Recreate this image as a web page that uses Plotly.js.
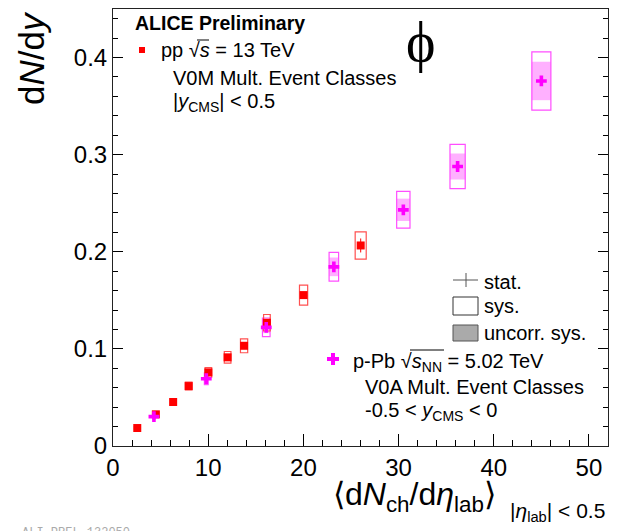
<!DOCTYPE html>
<html><head><meta charset="utf-8">
<script src="https://cdn.plot.ly/plotly-3.0.1.min.js"></script>
<style>html,body{margin:0;padding:0;background:#fff}</style>
</head><body>
<div id="chart" style="width:617px;height:531px"></div>
<script>
// pp 13 TeV, V0M multiplicity classes
const ppX     = [2.55, 4.50, 6.32, 7.95, 10.02, 12.04, 13.77, 16.17, 20.02, 26.02];
const ppY     = [0.0185, 0.0326, 0.0453, 0.0617, 0.0758, 0.0913, 0.1032, 0.1269, 0.1554, 0.2065];
const ppStat  = [0.0005, 0.0007, 0.0008, 0.0010, 0.0012, 0.0014, 0.0016, 0.0020, 0.0030, 0.0072];
const ppSys   = [0.0015, 0.0022, 0.0030, 0.0040, 0.0050, 0.0060, 0.0072, 0.0085, 0.0103, 0.0140];
const ppDx    = [0.30, 0.30, 0.30, 0.35, 0.35, 0.35, 0.38, 0.35, 0.43, 0.58];
// p-Pb 5.02 TeV, V0A multiplicity classes
const pPbX      = [4.3, 9.8, 16.1, 23.2, 30.5, 36.2, 45.0];
const pPbY      = [0.0302, 0.0693, 0.1222, 0.1845, 0.2432, 0.2878, 0.3759];
const pPbStat   = [0.0004, 0.0007, 0.0010, 0.0013, 0.0015, 0.0017, 0.0022];
const pPbSys    = [0.0025, 0.0060, 0.0096, 0.0148, 0.0189, 0.0227, 0.0300];
const pPbUncorr = [0.0016, 0.0040, 0.0060, 0.0096, 0.0115, 0.0134, 0.0198];
const pPbDx     = [0.10, 0.20, 0.40, 0.50, 0.70, 0.80, 1.00];
// axes
const xRange = [0, 52];
const yRange = [0, 0.45];

const FONT = 'Liberation Sans, Arial, Helvetica, sans-serif';
const LF = 20; // legend font size
const L = 113, R = 608, T = 9, B = 446;
const W = R - L, H = B - T;
const px = v => (v - L) / W;
const py = v => (B - v) / H;

const shapes = [];
// p-Pb uncorrelated systematics (filled)
for (let i = 0; i < pPbX.length; i++) {
  shapes.push({type:'rect', xref:'x', yref:'y', layer:'below',
    x0: pPbX[i]-pPbDx[i], x1: pPbX[i]+pPbDx[i],
    y0: pPbY[i]-pPbUncorr[i], y1: pPbY[i]+pPbUncorr[i],
    line:{width:0}, fillcolor:'#ffb0ff'});
}
for (let i = 0; i < pPbX.length; i++) {
  shapes.push({type:'rect', xref:'x', yref:'y', layer:'below',
    x0: pPbX[i]-pPbDx[i], x1: pPbX[i]+pPbDx[i],
    y0: pPbY[i]-pPbSys[i], y1: pPbY[i]+pPbSys[i],
    line:{color:'#ff4dff', width:1.2}, fillcolor:'rgba(0,0,0,0)'});
}
for (let i = 0; i < ppX.length; i++) {
  shapes.push({type:'rect', xref:'x', yref:'y', layer:'below',
    x0: ppX[i]-ppDx[i], x1: ppX[i]+ppDx[i],
    y0: ppY[i]-ppSys[i], y1: ppY[i]+ppSys[i],
    line:{color:'#ff5050', width:1.2}, fillcolor:'rgba(0,0,0,0)'});
}
// legend graphics (paper coords)
const P = (x0,y0,x1,y1,o) => Object.assign({type:'rect', xref:'paper', yref:'paper',
  x0:px(x0), x1:px(x1), y0:py(y1), y1:py(y0)}, o);
const Ln = (x0,y0,x1,y1,o) => Object.assign({type:'line', xref:'paper', yref:'paper',
  x0:px(x0), x1:px(x1), y0:py(y0), y1:py(y1)}, o);
shapes.push(P(139,47,145,53,{fillcolor:'#ff0000', line:{width:0}}));
shapes.push(Ln(453,280,478,280,{line:{color:'#555',width:1}}));
shapes.push(Ln(466,273,466,287,{line:{color:'#555',width:1}}));
shapes.push(P(453,297,478,315,{fillcolor:'#ffffff', line:{color:'#333',width:1}}));
shapes.push(P(453,325,478,341,{fillcolor:'#aaaaaa', line:{color:'#555',width:1}}));
shapes.push(P(327,357,339,361,{fillcolor:'#ff00ff', line:{width:0}}));
shapes.push(P(331,353,335,365,{fillcolor:'#ff00ff', line:{width:0}}));
// sqrt overlines
shapes.push(Ln(197,40,209,40,{line:{color:'#000',width:1}}));
shapes.push(Ln(410,350,444,350,{line:{color:'#000',width:1}}));

const A = (x, y, text, o) => Object.assign({xref:'paper', yref:'paper', x:px(x), y:py(y),
  text, showarrow:false, xanchor:'left', yanchor:'middle',
  font:{family:FONT, size:LF, color:'#000'}}, o);

const annotations = [
  A(133, 23, '<b>ALICE Preliminary</b>', {font:{family:FONT, size:19.5, color:'#000'}}),
  A(159, 50, 'pp √<i>s</i> = 13 TeV'),
  A(171, 78, 'V0M Mult. Event Classes'),
  A(171, 103, '|<i>y</i><sub>CMS</sub>| < 0.5'),
  A(420, 42, 'ϕ', {xanchor:'center', font:{family:'Liberation Serif, Times New Roman, serif', size:56, color:'#000'}}),
  A(482, 282, 'stat.'),
  A(482, 306, 'sys.'),
  A(482, 333, 'uncorr. sys.'),
  A(351, 362, 'p-Pb √<i>s</i><sub>NN</sub> = 5.02 TeV'),
  A(363, 387, 'V0A Mult. Event Classes'),
  A(363, 411, '-0.5 < <i>y</i><sub>CMS</sub> < 0'),
  A(31, 9, 'd<i>N</i>/d<i>y</i>', {xanchor:'center', yanchor:'top', textangle:-90, font:{family:FONT, size:35, color:'#000'}}),
  A(331, 496, '⟨d<i>N</i><sub>ch</sub>/d<i>η</i><sub>lab</sub>⟩', {font:{family:FONT, size:32, color:'#000'}}),
  A(607, 512, '|<i>η</i><sub>lab</sub>| < 0.5', {xanchor:'right', font:{family:FONT, size:21, color:'#000'}}),
  A(20, 524, 'ALI-PREL-132050', {yanchor:'top', font:{family:'Liberation Mono, Courier New, monospace', size:12, color:'#aaaaaa'}})
];

const traces = [
  {x: ppX, y: ppY, type:'scatter', mode:'markers', name:'pp 13 TeV',
   marker:{symbol:'square', size:8, color:'#ff0000', line:{width:0}},
   error_y:{type:'data', array: ppStat, color:'#ff0000', thickness:1, width:0}},
  {x: pPbX, y: pPbY, type:'scatter', mode:'markers', name:'p-Pb 5.02 TeV',
   marker:{symbol:'cross', size:9, color:'#ff00ff', line:{width:0}},
   error_y:{type:'data', array: pPbStat, color:'#ff00ff', thickness:1, width:0}}
];

const layout = {
  width:617, height:531,
  margin:{l:L, r:617-R, t:T, b:531-B, pad:0},
  paper_bgcolor:'#fff', plot_bgcolor:'#fff',
  showlegend:false,
  font:{family:FONT, color:'#000'},
  xaxis:{range:xRange, tick0:0, dtick:10, ticks:'inside', ticklen:12, tickwidth:1, tickcolor:'#000',
    showline:true, linecolor:'#222', linewidth:1, mirror:true, showgrid:false, zeroline:false,
    tickfont:{family:FONT, size:24, color:'#000'},
    minor:{dtick:2, ticks:'inside', ticklen:6, tickcolor:'#000', tickwidth:1, showgrid:false}},
  yaxis:{range:yRange, tick0:0, dtick:0.1, ticks:'inside', ticklen:10, tickwidth:1, tickcolor:'#000',
    showline:true, linecolor:'#222', linewidth:1, mirror:'ticks', showgrid:false, zeroline:false,
    tickfont:{family:FONT, size:24, color:'#000'},
    minor:{dtick:0.02, ticks:'inside', ticklen:5, tickcolor:'#000', tickwidth:1, showgrid:false}},
  shapes, annotations
};
Plotly.newPlot('chart', traces, layout, {displayModeBar:false, staticPlot:true});
</script>
</body></html>
